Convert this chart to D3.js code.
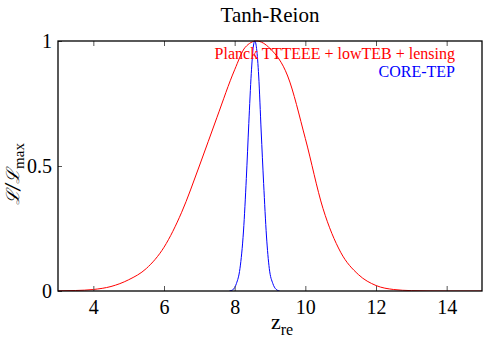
<!DOCTYPE html>
<html>
<head>
<meta charset="utf-8">
<script src="https://cdn.jsdelivr.net/npm/d3@7/dist/d3.min.js"></script>
<style>
  body { margin: 0; background: #fff; }
  text { font-family: "Liberation Serif", "DejaVu Serif", serif; }
</style>
</head>
<body>
<div id="chart"></div>
<script>
      var w = 500;
      var h = 350;

      // values
      var planckZ = [3.0, 3.5, 4.0, 4.5, 5.0, 5.5, 6.0, 6.5, 7.0, 7.5, 8.0, 8.3, 8.62,
                     9.0, 9.5, 10.0, 10.5, 11.0, 11.5, 12.0, 12.5, 13.0, 13.5, 14.0, 15.0];
      var planckL = [0.0005, 0.002, 0.006, 0.018, 0.045, 0.09, 0.175, 0.315, 0.5, 0.695, 0.885, 0.975, 1.0,
                     0.97, 0.86, 0.61, 0.33, 0.155, 0.066, 0.022, 0.006, 0.0015, 0.0003, 0.0, 0.0];

      var coreZ = [7.85, 7.95, 8.05, 8.15, 8.25, 8.33, 8.40, 8.47, 8.53, 8.57, 8.62, 8.68, 8.75,
                   8.82, 8.90, 8.98, 9.08, 9.17, 9.27];
      var coreL = [0.0, 0.005, 0.03, 0.09, 0.24, 0.45, 0.67, 0.87, 0.98, 1.0, 0.97, 0.86, 0.64,
                   0.43, 0.22, 0.09, 0.03, 0.007, 0.0];

      var xTicks = [4, 6, 8, 10, 12, 14];
      var yTicks = [0, 0.5, 1];
      var yTickLabels = ["0", "0.5", "1"];

      var plotL = 58, plotT = 41, plotR = 482, plotB = 291;

      var xScale = d3.scaleLinear().domain([3, 15]).range([plotL, plotR]);
      var yScale = d3.scaleLinear().domain([0, 1]).range([plotB, plotT]);

      var svg = d3.select("#chart")
            .append("svg")
            .attr("width", w)
            .attr("height", h);

      var line = d3.line()
            .x(function(d) { return xScale(d[0]); })
            .y(function(d) { return yScale(d[1]); })
            .curve(d3.curveMonotoneX);

      svg.append("clipPath").attr("id", "clip")
            .append("rect")
            .attr("x", plotL).attr("y", plotT - 1)
            .attr("width", plotR - plotL).attr("height", plotB - plotT + 1);

      svg.append("path")
         .datum(d3.zip(planckZ, planckL))
         .attr("clip-path", "url(#clip)")
         .attr("d", line)
         .attr("fill", "none")
         .attr("stroke", "#ff0000")
         .attr("stroke-width", 1);

      svg.append("path")
         .datum(d3.zip(coreZ, coreL))
         .attr("clip-path", "url(#clip)")
         .attr("d", line)
         .attr("fill", "none")
         .attr("stroke", "#0000ff")
         .attr("stroke-width", 1);

      //Axes: bottom and top with inward ticks
      var xBottom = d3.axisBottom(xScale).tickValues(xTicks).tickSizeInner(-5).tickSizeOuter(0).tickPadding(9);
      var gx = svg.append("g").attr("transform", "translate(0," + plotB + ")").call(xBottom);
      var xTop = d3.axisTop(xScale).tickValues(xTicks).tickSizeInner(-5).tickSizeOuter(0).tickFormat("");
      var gxt = svg.append("g").attr("transform", "translate(0," + plotT + ")").call(xTop);

      var yLeft = d3.axisLeft(yScale).tickValues(yTicks)
            .tickFormat(function(d, i) { return yTickLabels[i]; })
            .tickSizeInner(-4).tickSizeOuter(0).tickPadding(6);
      var gy = svg.append("g").attr("transform", "translate(" + plotL + ",0)").call(yLeft);

      [gx, gxt, gy].forEach(function(g) {
        g.select(".domain").remove();
        g.selectAll("line").attr("stroke", "#555").attr("stroke-width", 1);
        g.selectAll("text").attr("fill", "#000").style("font-size", "20px")
          .style("font-family", "'Liberation Serif', serif");
      });

      //Frame
      svg.append("rect")
         .attr("x", plotL).attr("y", plotT)
         .attr("width", plotR - plotL).attr("height", plotB - plotT)
         .attr("fill", "none")
         .attr("stroke", "#000")
         .attr("stroke-width", 1.3);

      //Title
      svg.append("text")
         .attr("x", (plotL + plotR) / 2)
         .attr("y", 22)
         .attr("text-anchor", "middle")
         .style("font-size", "21px")
         .text("Tanh-Reion");

      //Legend
      svg.append("text")
         .attr("x", 455).attr("y", 59)
         .attr("text-anchor", "end")
         .attr("fill", "#ff0000")
         .style("font-size", "16px")
         .text("Planck TTTEEE + lowTEB + lensing");
      svg.append("text")
         .attr("x", 455).attr("y", 77)
         .attr("text-anchor", "end")
         .attr("fill", "#0000ff")
         .style("font-size", "16px")
         .text("CORE-TEP");

      //Axis labels
      var xl = svg.append("text")
         .attr("x", 271).attr("y", 329)
         .style("font-size", "22px");
      xl.append("tspan").text("z");
      xl.append("tspan").attr("dy", 6).style("font-size", "16px").text("re");

      var yl = svg.append("text")
         .attr("transform", "translate(19,174) rotate(-90)")
         .attr("text-anchor", "middle")
         .style("font-size", "20px");
      yl.append("tspan").style("font-style", "italic").style("font-family", "'DejaVu Serif', serif")
        .style("font-size", "18px").text("\u2112/\u2112");
      yl.append("tspan").attr("dy", 5).style("font-size", "15px").text("max");
</script>
</body>
</html>
